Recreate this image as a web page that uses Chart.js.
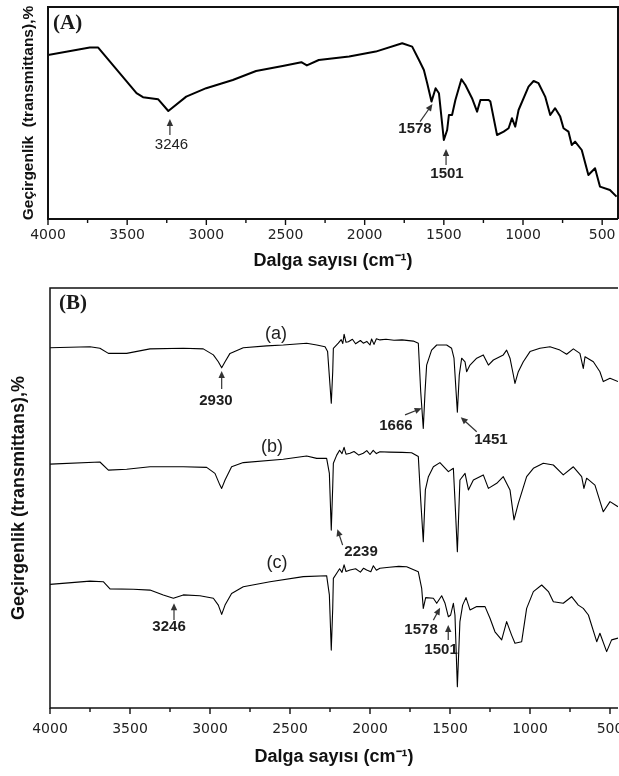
<!DOCTYPE html>
<html>
<head>
<meta charset="utf-8">
<script src="https://cdn.jsdelivr.net/npm/chart.js@4.4.1/dist/chart.umd.min.js"></script>
<style>
  html, body { margin: 0; padding: 0; background: #fff; overflow: hidden; width: 619px; height: 776px; }
  #boxA { position: absolute; left: 0; top: 0; width: 619px; height: 272px; }
  #boxB { position: absolute; left: 0; top: 280px; width: 640px; height: 496px; }
</style>
</head>
<body>
<div id="boxA"><canvas id="chartA" width="619" height="272"></canvas></div>
<div id="boxB"><canvas id="chartB" width="640" height="496"></canvas></div>
<script>
// ================= Data =================
// tick labels on the wavenumber axis (cm-1), minor ticks sit halfway between
const majorTicks = [4000, 3500, 3000, 2500, 2000, 1500, 1000, 500];
const minorTicks = [3750, 3250, 2750, 2250, 1750, 1250, 750];

// panel (A) spectrum
const waveA = [4000, 3736, 3683, 3441, 3400, 3305, 3240, 3127, 3001, 2833, 2686, 2518, 2400, 2365, 2290,
  2098, 1930, 1763, 1700, 1657, 1626, 1605, 1578, 1552, 1531, 1500, 1479, 1468, 1448, 1427,
  1389, 1364, 1322, 1290, 1269, 1217, 1206, 1164, 1122, 1091, 1070, 1049, 1028, 965, 933,
  902, 860, 828, 797, 765, 744, 713, 692, 671, 629, 587, 545, 514, 451, 409];
const transA = [82, 85.7, 85.7, 62.9, 60.9, 59.9, 54, 61.2, 65.4, 69.5, 74, 76.5, 78.4, 76.8, 79.5,
  81.2, 83.7, 87.9, 86.2, 79.5, 74.5, 67.9, 58.7, 65.4, 62.9, 39.5, 44.5, 52, 52, 59.5,
  69.9, 67, 60.4, 53.7, 59.5, 59.5, 58.7, 42, 43.7, 45.4, 50.4, 46.2, 54.5, 66.2, 69,
  67.9, 61.2, 52, 55.4, 51.2, 45.4, 43.7, 37, 38.7, 34.5, 22, 25.4, 16.2, 14.5, 11.2];

// panel (B) spectra, already offset from each other
const waveBa = [4000, 3750, 3688, 3635, 3521, 3375, 3167, 3042, 2979, 2948, 2927, 2906, 2875, 2792, 2646,
  2542, 2396, 2333, 2281, 2265, 2242, 2233, 2229, 2198, 2180, 2170, 2162, 2150, 2135, 2110,
  2090, 2060, 2042, 2020, 2000, 1990, 1975, 1960, 1938, 1900, 1850, 1800, 1729, 1698, 1683,
  1667, 1656, 1646, 1615, 1583, 1521, 1490, 1475, 1454, 1442, 1427, 1406, 1396, 1375, 1333,
  1292, 1260, 1229, 1167, 1146, 1125, 1104, 1094, 1073, 1042, 1000, 938, 875, 813, 771,
  729, 688, 667, 656, 604, 563, 542, 500, 450];
const transBa = [120.1, 120.4, 119.9, 118.2, 118.2, 119.7, 119.9, 119.7, 117.7, 115.4, 113.4, 115.4, 118.2, 120.1, 120.7,
  121, 121.6, 121, 120.4, 118.8, 101.6, 112.1, 119.9, 121.6, 122.8, 121.5, 124.6, 121.9, 122.1, 122.9,
  121.4, 122.5, 121.6, 122.2, 121.0, 123, 121.2, 123.1, 122.7, 122.9, 122.6, 122.7, 122.3, 121.6, 105.4,
  93.2, 105.4, 114.3, 119.3, 121, 121, 119.9, 116.6, 98.6, 111, 116.6, 115.4, 112.1, 114.3, 116.6,
  117.7, 114.3, 116, 117.7, 119.3, 116.6, 111, 108.2, 112.1, 115.4, 118.8, 119.9, 120.4, 119.3, 117.9,
  119.7, 118.2, 113.2, 117.1, 115.4, 112.1, 108.8, 109.9, 108.8];

const waveBb = [4000, 3688, 3635, 3521, 3375, 3167, 3021, 2969, 2938, 2927, 2906, 2865, 2792, 2542, 2396,
  2333, 2271, 2254, 2242, 2233, 2229, 2208, 2190, 2175, 2162, 2150, 2125, 2100, 2070, 2042,
  2020, 2000, 1980, 1960, 1938, 1880, 1800, 1740, 1698, 1683, 1667, 1654, 1635, 1604, 1563,
  1510, 1479, 1469, 1454, 1438, 1406, 1385, 1354, 1292, 1260, 1208, 1167, 1125, 1100, 1073,
  1021, 979, 917, 854, 792, 729, 677, 663, 646, 594, 542, 500, 450];
const transBb = [81.3, 82, 79.3, 79.6, 80.4, 80.4, 80.2, 78.2, 74.3, 73.2, 76, 80.4, 81.8, 82.9, 84,
  83.2, 83.2, 78.2, 59.3, 73.8, 81.6, 84.3, 85.9, 84.8, 86.9, 84.6, 84.9, 85.5, 84.3, 84.9,
  85.8, 84.5, 85.9, 84.8, 85.4, 85.3, 85.2, 85.1, 83.8, 69.3, 55.4, 72.7, 77.1, 80.4, 81.8,
  78.8, 79.9, 69.3, 52.1, 76, 78.2, 72.7, 76, 77.7, 73.2, 74.9, 77.1, 72.7, 62.7, 68.2,
  77.1, 79.9, 81.6, 81, 77.7, 80.4, 77.1, 73.2, 76.6, 74.3, 65.4, 68.8, 67.1];

const waveBc = [4000, 3750, 3667, 3625, 3479, 3375, 3292, 3229, 3167, 3063, 2979, 2948, 2927, 2906, 2865,
  2792, 2625, 2417, 2271, 2254, 2242, 2233, 2229, 2208, 2190, 2175, 2162, 2150, 2125, 2090,
  2060, 2040, 2021, 1995, 1979, 1960, 1938, 1880, 1820, 1771, 1698, 1677, 1667, 1652, 1604,
  1583, 1552, 1531, 1510, 1496, 1479, 1469, 1454, 1438, 1421, 1400, 1375, 1333, 1281, 1250,
  1219, 1177, 1146, 1115, 1094, 1052, 1021, 979, 927, 885, 854, 792, 740, 698, 667,
  635, 583, 563, 521, 490, 450];
const transBc = [41.2, 42.3, 42.1, 39.7, 39.6, 39.3, 37.7, 36.6, 37.7, 37.4, 36.6, 34.3, 31.2, 34.3, 38.2,
  40.4, 42.1, 43.8, 44.1, 37.7, 19.3, 33.2, 43.2, 44.9, 46.4, 45.2, 47.7, 45.5, 46, 46.4,
  45.3, 46.6, 46, 45.4, 47.4, 45.9, 46.6, 46.9, 47.2, 47.1, 45.4, 39.9, 33.2, 36.8, 36.6,
  34.9, 37.4, 34.9, 30.4, 31, 34.9, 31, 7.1, 28.8, 34.3, 36.8, 32.7, 33.8, 33.8, 29.9,
  25.4, 22.7, 28.8, 24.3, 21.6, 22.1, 33.2, 38.8, 41, 38.8, 35.4, 34.9, 37.1, 34.3, 33.2,
  31, 22.1, 24.9, 18.8, 22.7, 23.3];

// peak labels: text, label centre [wavenumber, T], arrow [tail wn, tail T, head wn, head T]
const notesA = [
  { text: '3246', at: [3220, 37], arrow: [3230, 42, 3230, 50], bold: false },
  { text: '1578', at: [1682, 45], arrow: [1650, 48.7, 1572, 57.5], bold: true },
  { text: '1501', at: [1480, 22.5], arrow: [1486, 27, 1486, 35], bold: true }
];
const notesB = [
  { text: '(a)', at: [2588, 124.7], plain: true },
  { text: '(b)', at: [2613, 87], plain: true },
  { text: '(c)', at: [2581, 48.3], plain: true },
  { text: '2930', at: [2963, 102.3], arrow: [2927, 106.3, 2927, 112.3], bold: true },
  { text: '1666', at: [1838, 94], arrow: [1781, 97.7, 1677, 99.9], bold: true },
  { text: '1451', at: [1244, 89.3], arrow: [1333, 92.1, 1433, 96.9], bold: true },
  { text: '2239', at: [2056, 52], arrow: [2171, 54.3, 2204, 59.6], bold: true },
  { text: '3246', at: [3256, 27], arrow: [3225, 29.3, 3225, 34.9], bold: true },
  { text: '1578', at: [1681, 26], arrow: [1604, 29.3, 1562, 33.4], bold: true },
  { text: '1501', at: [1556, 19.3], arrow: [1511, 22.7, 1511, 27.7], bold: true }
];

// ================= Helpers =================
const allTicks = majorTicks.concat(minorTicks).sort((a, b) => b - a);

function toPoints(xs, ys) {
  return xs.map((v, i) => ({ x: v, y: ys[i] }));
}

function waveAxis(min, cfg) {
  return {
    type: 'linear', reverse: true, min: min, max: 4000,
    afterBuildTicks: s => { s.ticks = allTicks.filter(v => v >= min).map(v => ({ value: v })); },
    afterFit: s => { s.height = cfg.height; },
    ticks: {
      autoSkip: false, maxRotation: 0, padding: cfg.pad, color: '#222',
      font: { family: 'DejaVu Sans', size: 14 },
      callback: v => majorTicks.includes(v) ? String(v) : ''
    },
    grid: { display: true, drawOnChartArea: false, tickLength: 6, tickColor: 'rgba(0,0,0,0)' },
    border: { display: false },
    title: {
      display: true, text: 'Dalga sayısı (cm⁻¹)', color: '#111',
      font: { family: 'Liberation Sans', size: 18, weight: 'bold' },
      padding: { top: 0, bottom: cfg.titlePad }
    }
  };
}

function transAxis(max, cfg) {
  return {
    min: 0, max: max,
    afterFit: s => { s.width = cfg.width; },
    ticks: { display: false },
    grid: { display: false },
    border: { display: false },
    title: {
      display: true, text: cfg.text, color: '#111',
      font: { family: 'Liberation Sans', size: cfg.size, weight: 'bold' },
      padding: { top: cfg.pad, bottom: 0 }
    }
  };
}

// box, tick marks and panel letter
const framePlugin = {
  id: 'frame',
  afterDraw(chart, args, o) {
    const { ctx, chartArea: a, scales: { x } } = chart;
    ctx.save();
    ctx.strokeStyle = '#111';
    ctx.lineWidth = o.width;
    ctx.beginPath();
    ctx.moveTo(a.right, a.bottom);
    ctx.lineTo(a.left, a.bottom);
    ctx.lineTo(a.left, a.top);
    ctx.lineTo(a.right, a.top);
    if (o.right) ctx.lineTo(a.right, a.bottom);
    ctx.stroke();

    ctx.lineWidth = 1.4;
    ctx.beginPath();
    x.ticks.forEach(t => {
      const px = x.getPixelForValue(t.value);
      const len = majorTicks.includes(t.value) ? 6 : 4;
      ctx.moveTo(px, a.bottom);
      ctx.lineTo(px, a.bottom + len);
    });
    ctx.stroke();

    ctx.fillStyle = '#1a1a1a';
    ctx.font = 'bold 21px "Liberation Serif"';
    ctx.textAlign = 'left';
    ctx.textBaseline = 'middle';
    ctx.fillText(o.label, a.left + o.dx, a.top + o.dy);
    ctx.restore();
  }
};

// peak labels with arrows
const notesPlugin = {
  id: 'notes',
  afterDatasetsDraw(chart, args, o) {
    const { ctx, scales: { x, y } } = chart;
    ctx.save();
    o.items.forEach(n => {
      ctx.fillStyle = '#1e1e1e';
      ctx.textAlign = 'center';
      ctx.textBaseline = 'middle';
      if (n.plain) ctx.font = '18px "Liberation Sans"';
      else ctx.font = (n.bold ? 'bold ' : '') + '15px "Liberation Sans"';
      ctx.fillText(n.text, x.getPixelForValue(n.at[0]), y.getPixelForValue(n.at[1]));
      if (!n.arrow) return;
      const x0 = x.getPixelForValue(n.arrow[0]), y0 = y.getPixelForValue(n.arrow[1]);
      const x1 = x.getPixelForValue(n.arrow[2]), y1 = y.getPixelForValue(n.arrow[3]);
      const ang = Math.atan2(y1 - y0, x1 - x0);
      ctx.strokeStyle = '#333';
      ctx.lineWidth = 1.2;
      ctx.beginPath();
      ctx.moveTo(x0, y0);
      ctx.lineTo(x1 - 4 * Math.cos(ang), y1 - 4 * Math.sin(ang));
      ctx.stroke();
      ctx.fillStyle = '#333';
      ctx.beginPath();
      ctx.moveTo(x1, y1);
      ctx.lineTo(x1 - 7 * Math.cos(ang) + 3.2 * Math.sin(ang), y1 - 7 * Math.sin(ang) - 3.2 * Math.cos(ang));
      ctx.lineTo(x1 - 7 * Math.cos(ang) - 3.2 * Math.sin(ang), y1 - 7 * Math.sin(ang) + 3.2 * Math.cos(ang));
      ctx.closePath();
      ctx.fill();
    });
    ctx.restore();
  }
};

function lineSet(xs, ys, width) {
  return {
    data: toPoints(xs, ys), borderColor: '#000', borderWidth: width,
    pointRadius: 0, tension: 0, fill: false, borderJoinStyle: 'round'
  };
}

// ================= Panel A =================
new Chart(document.getElementById('chartA').getContext('2d'), {
  type: 'line',
  data: { datasets: [lineSet(waveA, transA, 2)] },
  options: {
    responsive: false, animation: false,
    layout: { padding: { top: 7, right: 1, bottom: 0, left: 0 } },
    scales: {
      x: waveAxis(400, { height: 53, pad: 2, titlePad: 0.5 }),
      y: transAxis(106, { width: 48, text: 'Geçirgenlik  (transmittans),%', size: 15.5, pad: 19 })
    },
    plugins: {
      legend: { display: false }, tooltip: { enabled: false },
      frame: { width: 2, right: true, label: '(A)', dx: 5, dy: 17 },
      notes: { items: notesA }
    }
  },
  plugins: [framePlugin, notesPlugin]
});

// ================= Panel B =================
new Chart(document.getElementById('chartB').getContext('2d'), {
  type: 'line',
  data: {
    datasets: [
      lineSet(waveBa, transBa, 1.1),
      lineSet(waveBb, transBb, 1.1),
      lineSet(waveBc, transBc, 1.1)
    ]
  },
  options: {
    responsive: false, animation: false,
    layout: { padding: { top: 8, right: 22, bottom: 0, left: 0 } },
    scales: {
      x: waveAxis(450, { height: 68, pad: 7, titlePad: 8 }),
      y: transAxis(140, { width: 50, text: 'Geçirgenlik (transmittans),%', size: 18, pad: 8 })
    },
    plugins: {
      legend: { display: false }, tooltip: { enabled: false },
      frame: { width: 1.5, right: false, label: '(B)', dx: 9, dy: 15.5 },
      notes: { items: notesB }
    }
  },
  plugins: [framePlugin, notesPlugin]
});
</script>
</body>
</html>
